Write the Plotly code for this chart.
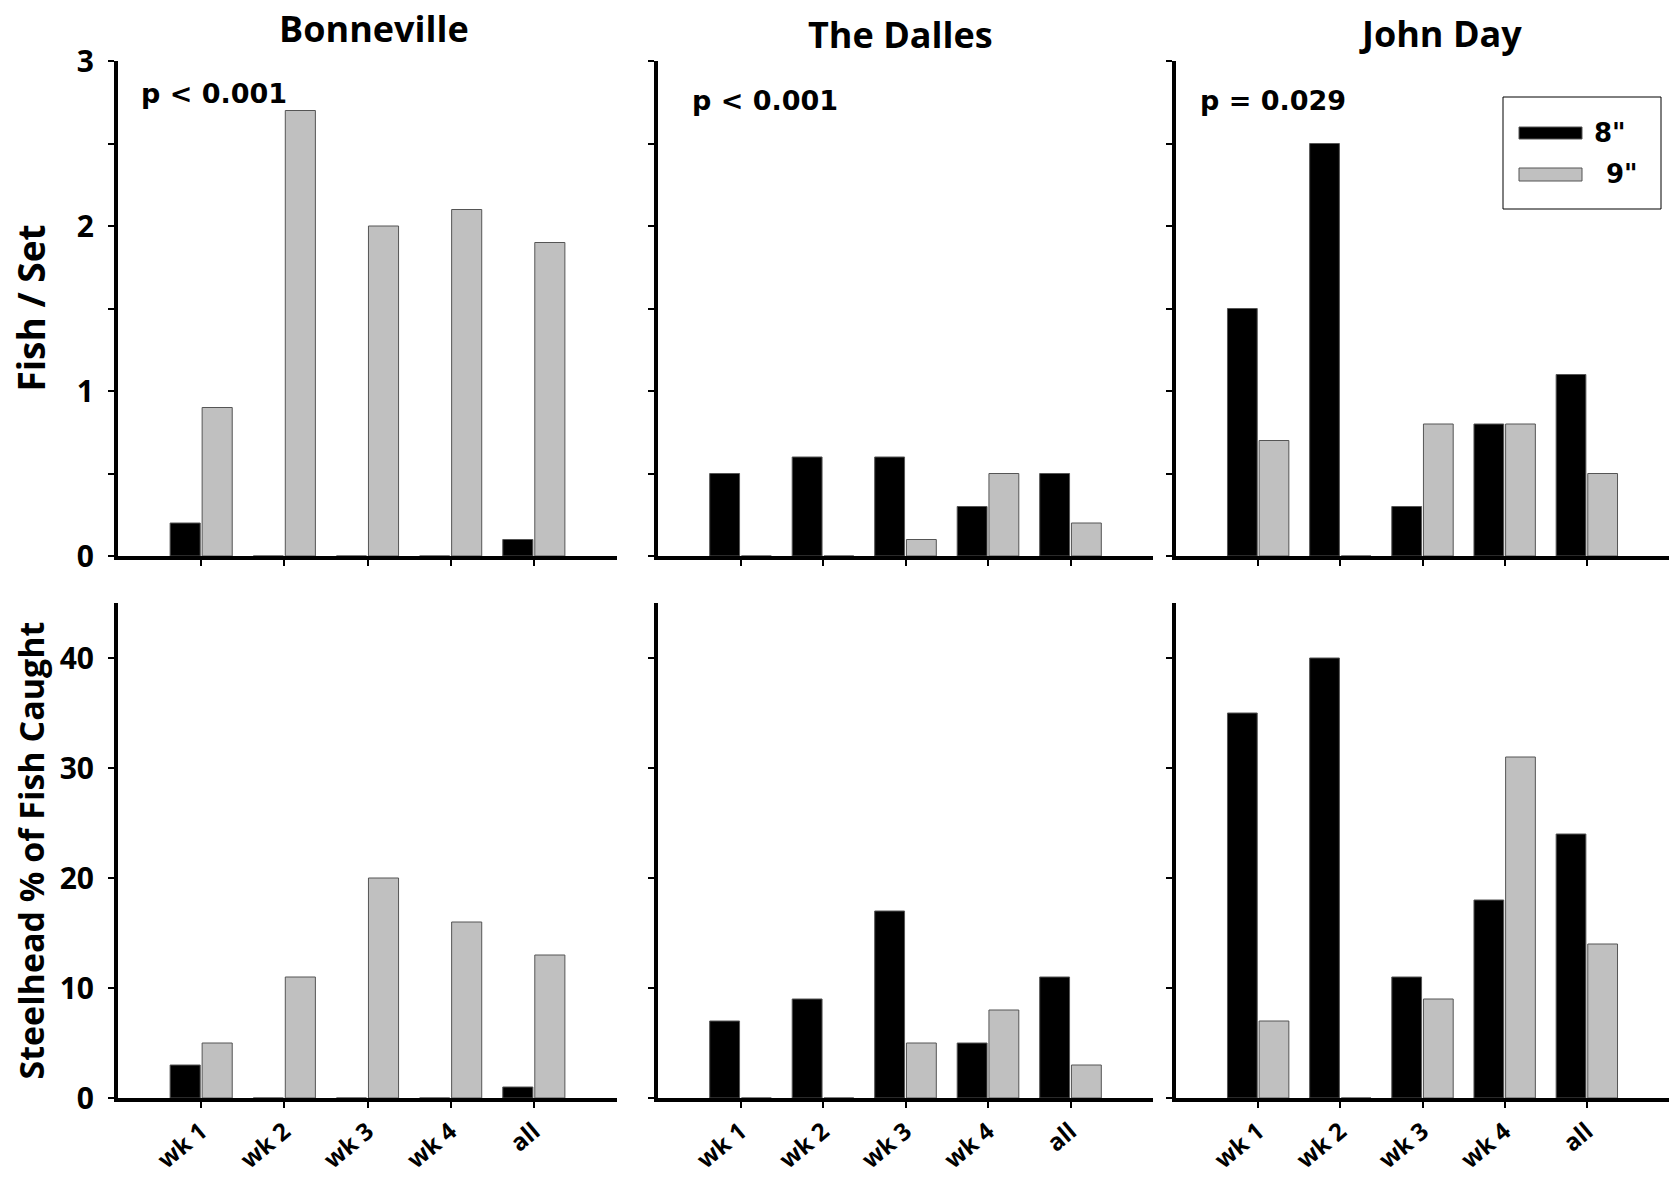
import plotly.graph_objects as go

FONT = "Open Sans"
PFONT = "DejaVu Sans"

categories = ["wk 1", "wk 2", "wk 3", "wk 4", "all"]
sites = ["Bonneville", "The Dalles", "John Day"]
p_values = ["p < 0.001", "p < 0.001", "p = 0.029"]

# Fish / Set
fish_set_8 = {
    "Bonneville": [0.2, 0, 0, 0, 0.1],
    "The Dalles": [0.5, 0.6, 0.6, 0.3, 0.5],
    "John Day": [1.5, 2.5, 0.3, 0.8, 1.1],
}
fish_set_9 = {
    "Bonneville": [0.9, 2.7, 2.0, 2.1, 1.9],
    "The Dalles": [0, 0, 0.1, 0.5, 0.2],
    "John Day": [0.7, 0, 0.8, 0.8, 0.5],
}
# Steelhead % of fish caught
steel_pct_8 = {
    "Bonneville": [3, 0, 0, 0, 1],
    "The Dalles": [7, 9, 17, 5, 11],
    "John Day": [35, 40, 11, 18, 24],
}
steel_pct_9 = {
    "Bonneville": [5, 11, 20, 16, 13],
    "The Dalles": [0, 0, 5, 8, 3],
    "John Day": [7, 0, 9, 31, 14],
}

series_names = ['8"', '9"']
series_colors = ["#000000", "#c0c0c0"]

top_ticks = [0, 0.5, 1, 1.5, 2, 2.5, 3]
top_ticktext = ["0", "", "1", "", "2", "", "3"]
bot_ticks = [0, 10, 20, 30, 40]
bot_ticktext = ["0", "10", "20", "30", "40"]

W, H = 1669, 1177
x_domains = [[118 / W, 617 / W], [658 / W, 1153 / W], [1176 / W, 1.0]]
top_dom = [1 - 556 / H, 1 - 61 / H]
bot_dom = [1 - 1098 / H, 1 - 603 / H]

fig = go.Figure()
layout = dict(
    width=W, height=H, margin=dict(l=0, r=0, t=0, b=0),
    paper_bgcolor="white", plot_bgcolor="white",
    barmode="group", bargap=0.23, bargroupgap=0.06,
    showlegend=False, font=dict(family=FONT, color="black"),
)

for i, site in enumerate(sites):
    for row in range(2):
        idx = i + 1 + 3 * row
        xa = "x" if idx == 1 else f"x{idx}"
        ya = "y" if idx == 1 else f"y{idx}"
        d8 = fish_set_8[site] if row == 0 else steel_pct_8[site]
        d9 = fish_set_9[site] if row == 0 else steel_pct_9[site]
        for name, col, vals in zip(series_names, series_colors, [d8, d9]):
            fig.add_trace(go.Bar(
                x=categories, y=vals, name=name, xaxis=xa, yaxis=ya,
                marker=dict(color=col, line=dict(color="#555555", width=1)),
            ))
        xkey = "xaxis" if idx == 1 else f"xaxis{idx}"
        ykey = "yaxis" if idx == 1 else f"yaxis{idx}"
        layout[xkey] = dict(
            domain=x_domains[i], anchor=ya, type="category",
            range=[-1, 5], showline=True, linecolor="black", linewidth=4,
            ticks="outside", ticklen=6, tickwidth=1.5, tickcolor="black",
            showgrid=False, zeroline=False, automargin=False,
            showticklabels=(row == 1), tickangle=-40,
            tickfont=dict(family=FONT, size=24, weight="bold", color="black"),
            fixedrange=True,
        )
        if row == 0:
            tv, tt, rng, dom = top_ticks, top_ticktext, [0, 3], top_dom
        else:
            tv, tt, rng, dom = bot_ticks, bot_ticktext, [0, 45], bot_dom
        layout[ykey] = dict(
            domain=dom, anchor=xa, range=rng, tickmode="array",
            tickvals=tv, ticktext=tt if i == 0 else [""] * len(tv),
            showline=True, linecolor="black", linewidth=4,
            ticks="outside", ticklen=6, tickwidth=2, tickcolor="black",
            showgrid=False, zeroline=False, automargin=False,
            tickfont=dict(family=FONT, size=30, weight="bold", color="black"),
            ticklabelstandoff=8, fixedrange=True,
        )

fig.update_layout(**layout)

# Titles
title_pos = [(374, 29), (901, 34), (1440, 33)]
for site, (tx, ty) in zip(sites, title_pos):
    fig.add_annotation(text=site, x=tx / W, y=1 - ty / H, xref="paper", yref="paper",
                       showarrow=False, xanchor="center", yanchor="middle",
                       font=dict(family=FONT, size=36, weight="bold", color="black"))

# p-values
p_pos = [(139, 94), (690, 100), (1198, 100)]
for pv, (px, py) in zip(p_values, p_pos):
    fig.add_annotation(text=pv, x=px / W, y=1 - py / H, xref="paper", yref="paper",
                       showarrow=False, xanchor="left", yanchor="middle",
                       font=dict(family=PFONT, size=27, weight="bold", color="black"))

# Y axis titles
fig.add_annotation(text="Fish / Set", x=30 / W, y=(top_dom[0] + top_dom[1]) / 2,
                   xref="paper", yref="paper", showarrow=False, textangle=-90,
                   xanchor="center", yanchor="middle",
                   font=dict(family=FONT, size=37, weight="bold", color="black"))
fig.add_annotation(text="Steelhead % of Fish Caught", x=30 / W, y=(bot_dom[0] + bot_dom[1]) / 2,
                   xref="paper", yref="paper", showarrow=False, textangle=-90,
                   xanchor="center", yanchor="middle",
                   font=dict(family=FONT, size=34, weight="bold", color="black"))

# Legend (drawn manually to reproduce wide swatches)
fig.add_shape(type="rect", xref="paper", yref="paper",
              x0=1503 / W, x1=1661 / W, y0=1 - 209 / H, y1=1 - 97 / H,
              line=dict(color="black", width=1), fillcolor="white")
sw_y = [(127, 139), (168, 181)]
lab_x = [1592, 1604]
for name, col, (ya0, ya1), lx in zip(series_names, series_colors, sw_y, lab_x):
    fig.add_shape(type="rect", xref="paper", yref="paper",
                  x0=1519 / W, x1=1582 / W, y0=1 - ya1 / H, y1=1 - ya0 / H,
                  line=dict(color="#555555", width=1), fillcolor=col)
    fig.add_annotation(text=name, x=lx / W, y=1 - (ya0 + ya1) / 2 / H,
                       xref="paper", yref="paper", showarrow=False,
                       xanchor="left", yanchor="middle",
                       font=dict(family=PFONT, size=26, weight="bold", color="black"))

fig.write_html("out.html", config={"displayModeBar": False})
